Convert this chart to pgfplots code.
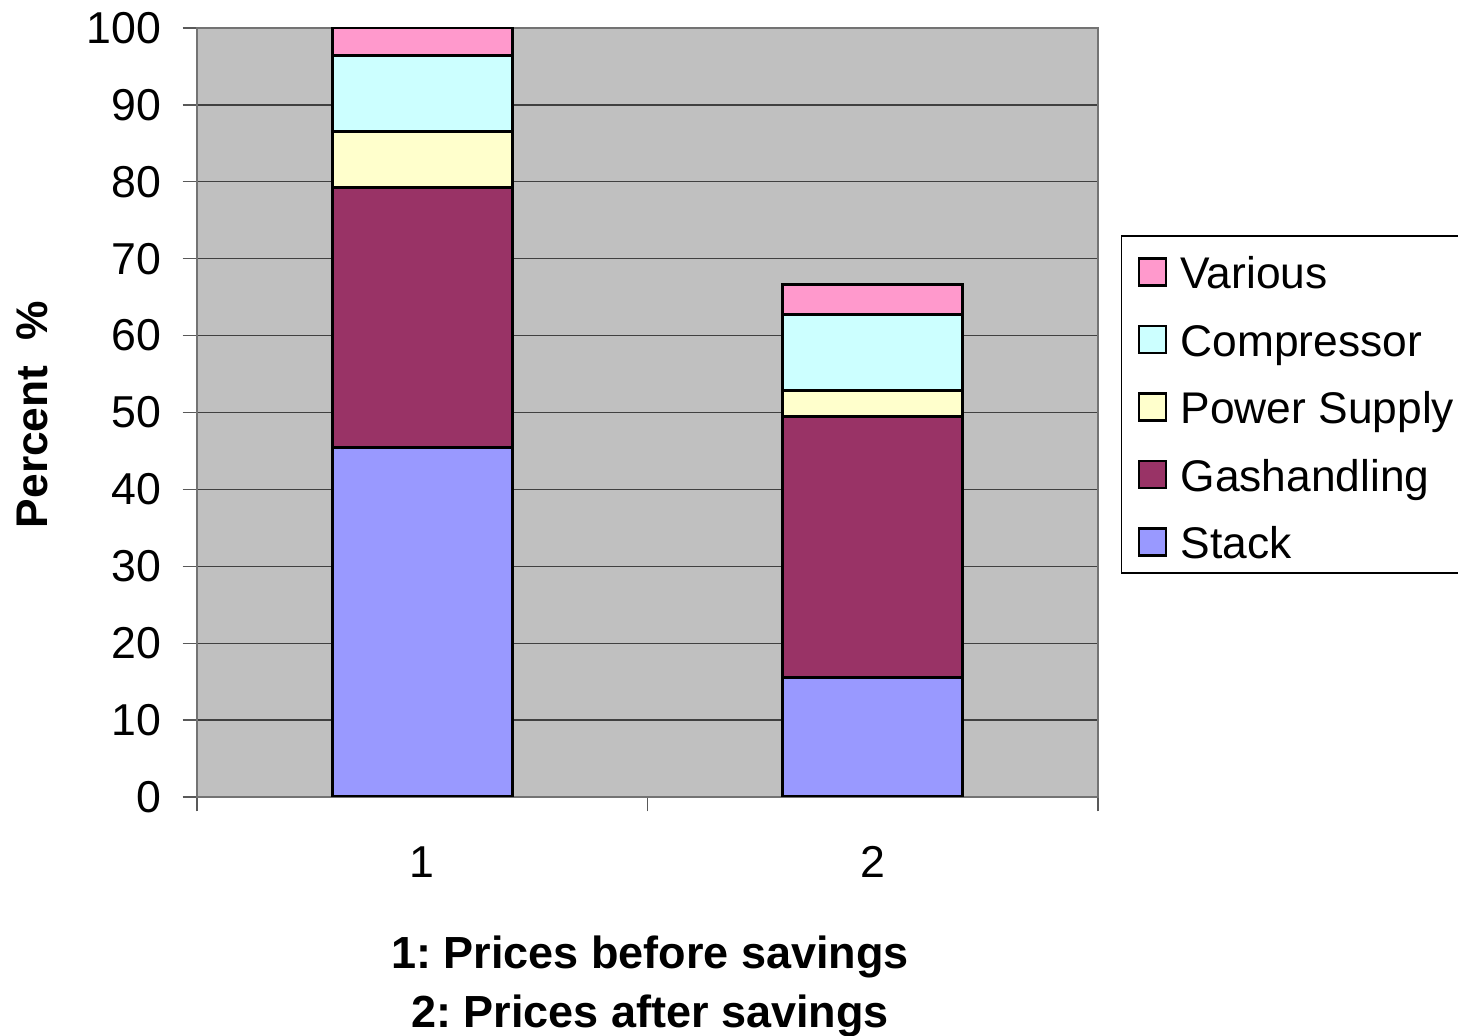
\documentclass[border=0pt]{standalone}
\usepackage{pgfplots}
\usepackage{pgfplotstable}
\pgfplotsset{compat=1.18}
\usepackage{fontspec}
\setmainfont{Liberation Sans}
\frenchspacing
\definecolor{cStack}{HTML}{9999FF}
\definecolor{cGas}{HTML}{993366}
\definecolor{cPower}{HTML}{FFFFCC}
\definecolor{cComp}{HTML}{CCFFFF}
\definecolor{cVar}{HTML}{FF99CC}
\definecolor{plotgray}{HTML}{C0C0C0}
\pgfplotstableread{
x Stack Gas Power Comp Various
1 45.5 33.7 7.3 9.9 3.6
2 15.5 34.0 3.3 9.9 3.9
}\data
\begin{document}
\begin{tikzpicture}
\useasboundingbox (-59.1pt,-71.7pt) rectangle (378.3pt,239.1pt);
\begin{axis}[
  at={(0,0)}, anchor=south west,
  scale only axis, width=270.3pt, height=230.7pt,
  ybar stacked, bar width=0.4,
  xmin=0.5, xmax=2.5, ymin=0, ymax=100,
  ytick={0,10,...,100},
  xtick={0.5,1.5,2.5}, xticklabels={},
  extra x ticks={1,2}, extra x tick labels={1,2},
  extra x tick style={major tick length=0pt},
  xtick pos=bottom, ytick pos=left,
  tick align=outside, major tick length=4.3pt,
  tick style={draw=black!65, line width=0.4pt},
  ymajorgrids, grid style={draw=black!75, line width=0.4pt},
  axis line style={draw=black!55, line width=0.6pt},
  axis background/.style={fill=plotgray},
  /pgf/number format/assume math mode=true,
  ticklabel style={font=\fontsize{13.4}{16}\selectfont},
  yticklabel style={anchor=east, inner sep=0pt, xshift=-6.3pt},
  xticklabel style={anchor=north, inner sep=0pt, yshift=-14.7pt},
  ylabel={Percent\ \ \%},
  ylabel style={at={(axis description cs:-0.183,0.497)}, anchor=center, inner sep=0pt,
    font=\bfseries\fontsize{13.3}{16}\selectfont},
  xlabel={1: Prices before savings\\2: Prices after savings},
  xlabel style={at={(axis description cs:0.5028,0)}, anchor=north, yshift=-41.6pt,
    align=center, inner sep=0pt, font=\bfseries\fontsize{13.5}{17.7}\selectfont},
  reverse legend,
  legend cell align=left,
  legend image code/.code={\draw[#1, draw=black, line width=0.8pt] (0pt,-4.8pt) rectangle (8.1pt,3.3pt);},
  legend style={at={(rel axis cs:1.02553,0.7305)}, anchor=north west,
    draw=black, line width=0.4pt, fill=white,
    font=\fontsize{13.3}{16}\selectfont,
    inner xsep=4.8pt, inner ysep=4.2pt, row sep=8.55pt, column sep=4.0pt,
    nodes={inner sep=0pt, text height=11.7pt, text depth=0pt}},
]
\addplot[fill=cStack, draw=black, line width=0.9pt] table[x=x,y=Stack]{\data};
\addplot[fill=cGas, draw=black, line width=0.9pt] table[x=x,y=Gas]{\data};
\addplot[fill=cPower, draw=black, line width=0.9pt] table[x=x,y=Power]{\data};
\addplot[fill=cComp, draw=black, line width=0.9pt] table[x=x,y=Comp]{\data};
\addplot[fill=cVar, draw=black, line width=0.9pt] table[x=x,y=Various]{\data};
\legend{Stack,Gashandling,Power Supply,Compressor,Various}
\end{axis}
\end{tikzpicture}
\end{document}
